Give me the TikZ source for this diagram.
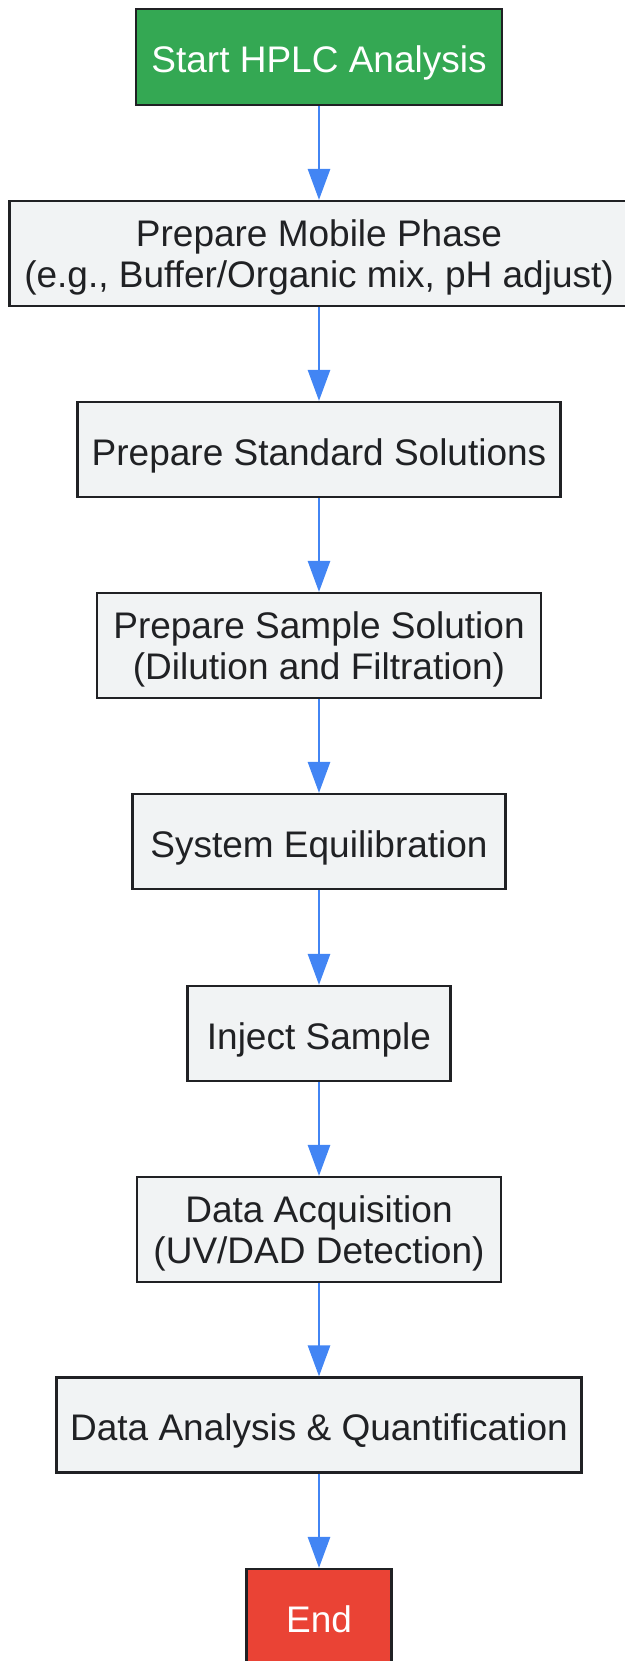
\documentclass[tikz,border=0pt]{standalone}
\usepackage{fontspec}
\setmainfont{Liberation Sans}
\usetikzlibrary{arrows.meta}

\definecolor{stagefill}{HTML}{F1F3F4}
\definecolor{edgedark}{HTML}{202124}
\definecolor{startgreen}{HTML}{34A853}
\definecolor{endred}{HTML}{EA4335}
\definecolor{flowblue}{HTML}{4285F4}

\tikzstyle{stage}=[draw=edgedark,fill=stagefill,line width=1.1pt,text=edgedark,align=center,inner sep=0pt,minimum height=47.5pt,text height=19.6pt,text depth=4pt,font=\fontsize{18.5}{20.5}\selectfont]
\tikzstyle{twoline}=[minimum height=52.5pt,text height=38.4pt,text depth=4pt]
\tikzstyle{flow}=[draw=flowblue,line width=1.4pt,-{Triangle[length=15.5pt,width=11pt]}]

\begin{document}
\begin{tikzpicture}[x=0.5pt,y=-0.5pt]
    \useasboundingbox (0,0) rectangle (625,1661);

    \node[stage,fill=startgreen,text=white,minimum width=183pt,minimum height=48pt] (n1) at (319,57) {Start HPLC Analysis};
    \node[stage,twoline,minimum width=309.5pt] (n2) at (319,253.5) {Prepare Mobile Phase\\(e.g., Buffer/Organic mix, pH adjust)};
    \node[stage,minimum width=241.5pt] (n3) at (319,449.5) {Prepare Standard Solutions};
    \node[stage,twoline,minimum width=222pt] (n4) at (319,645.5) {Prepare Sample Solution\\(Dilution and Filtration)};
    \node[stage,minimum width=186.5pt] (n5) at (319,841.5) {System Equilibration};
    \node[stage,minimum width=131.5pt] (n6) at (319,1033.5) {Inject Sample};
    \node[stage,twoline,minimum width=182pt] (n7) at (319,1229.5) {Data Acquisition\\(UV/DAD Detection)};
    \node[stage,minimum width=262.5pt] (n8) at (319,1425) {Data Analysis \& Quantification};
    \node[stage,fill=endred,text=white,minimum width=72.5pt] (n9) at (319,1616.5) {End};

    \draw[flow] (n1) -- (n2);
    \draw[flow] (n2) -- (n3);
    \draw[flow] (n3) -- (n4);
    \draw[flow] (n4) -- (n5);
    \draw[flow] (n5) -- (n6);
    \draw[flow] (n6) -- (n7);
    \draw[flow] (n7) -- (n8);
    \draw[flow] (n8) -- (n9);

\end{tikzpicture}
\end{document}
